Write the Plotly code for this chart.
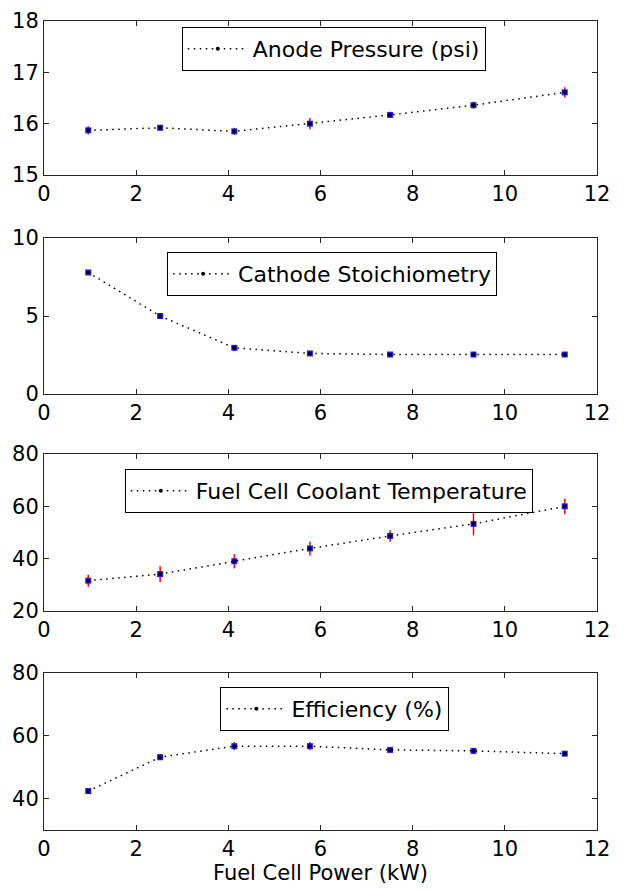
import plotly.graph_objects as go

power_kw = [0.96, 2.52, 4.13, 5.77, 7.51, 9.32, 11.3]

anode_pressure = [15.87, 15.92, 15.85, 16.0, 16.17, 16.36, 16.61]
anode_pressure_err = [0.08, 0.06, 0.07, 0.11, 0.06, 0.07, 0.10]

cathode_stoich = [7.79, 5.0, 2.96, 2.6, 2.53, 2.53, 2.53]
cathode_stoich_err = [0.15, 0.12, 0.12, 0.1, 0.08, 0.08, 0.08]

coolant_temp = [31.6, 34.1, 39.0, 43.9, 48.7, 53.3, 60.0]
coolant_temp_err = [2.3, 3.0, 2.7, 2.7, 2.2, 4.4, 2.9]

efficiency = [42.4, 53.2, 56.7, 56.7, 55.5, 55.2, 54.3]
efficiency_err = [0.7, 1.0, 1.3, 1.3, 0.9, 0.9, 0.7]

x_ticks = [0, 2, 4, 6, 8, 10, 12]

panels = [
    ("Anode Pressure (psi)", anode_pressure, anode_pressure_err, [15, 18], [15, 16, 17, 18]),
    ("Cathode Stoichiometry", cathode_stoich, cathode_stoich_err, [0, 10], [0, 5, 10]),
    ("Fuel Cell Coolant Temperature", coolant_temp, coolant_temp_err, [20, 80], [20, 40, 60, 80]),
    ("Efficiency (%)", efficiency, efficiency_err, [30, 80], [40, 60, 80]),
]

W, H = 637, 890
# pixel extents (top, bottom) of each panel
panel_px = [(13, 167), (230, 386), (446, 603), (665, 822)]
legend_top_px = [19, 244, 461, 679]
legend_x = [0.524, 0.521, 0.515, 0.526]
ML, MR = 36, 48
MT, MB = panel_px[0][0], H - panel_px[3][1]
plot_h = H - MT - MB

def py2paper(py):
    return (H - MB - py) / plot_h

FONT = "DejaVu Sans, Liberation Sans, Arial, sans-serif"
FS = 21
LFS = 22

fig = go.Figure()
layout = dict(
    width=W, height=H,
    margin=dict(l=ML, r=MR, t=MT, b=MB, autoexpand=False),
    paper_bgcolor="white", plot_bgcolor="white",
    font=dict(family=FONT, size=FS, color="black"),
    showlegend=True,
)

for i, (name, vals, errs, yr, yt) in enumerate(panels):
    k = "" if i == 0 else str(i + 1)
    xa, ya = "x" + k, "y" + k
    leg = "legend" + k
    fig.add_trace(go.Scatter(
        x=power_kw, y=vals, mode="markers", xaxis=xa, yaxis=ya,
        marker=dict(symbol="square", size=6, color="#1a1aff"),
        error_y=dict(type="data", array=errs, visible=True, color="red", thickness=1.5, width=0),
        showlegend=False, hoverinfo="skip",
    ))
    fig.add_trace(go.Scatter(
        x=power_kw, y=vals, mode="lines+markers", xaxis=xa, yaxis=ya, name=name,
        line=dict(color="black", width=1.5, dash="1.5px,4.5px"),
        marker=dict(symbol="circle", size=4, color="black"),
        legend=leg,
    ))
    top, bot = panel_px[i]
    dom = [py2paper(bot), py2paper(top)]
    axis_common = dict(
        showline=True, linecolor="#262626", linewidth=1, mirror="ticks",
        ticks="inside", ticklen=5, tickcolor="#262626", showgrid=False, zeroline=False,
        tickfont=dict(family=FONT, size=FS, color="black"), automargin=False,
        ticklabeloverflow="allow",
    )
    layout["xaxis" + k] = dict(
        axis_common, range=[0, 12], tickvals=x_ticks,
        anchor=ya, domain=[0, 1],
    )
    layout["yaxis" + k] = dict(
        axis_common, range=yr, tickvals=yt, anchor=xa, domain=dom,
    )
    layout[leg] = dict(
        x=legend_x[i], xanchor="center", y=py2paper(legend_top_px[i]), yanchor="top",
        bordercolor="black", borderwidth=1, bgcolor="white",
        font=dict(family=FONT, size=LFS, color="black"),
        itemwidth=60,
    )

layout["xaxis4"]["title"] = dict(text="Fuel Cell Power (kW)", standoff=4,
                                  font=dict(family=FONT, size=FS, color="black"))
fig.update_layout(**layout)
fig.write_html("out.html")
